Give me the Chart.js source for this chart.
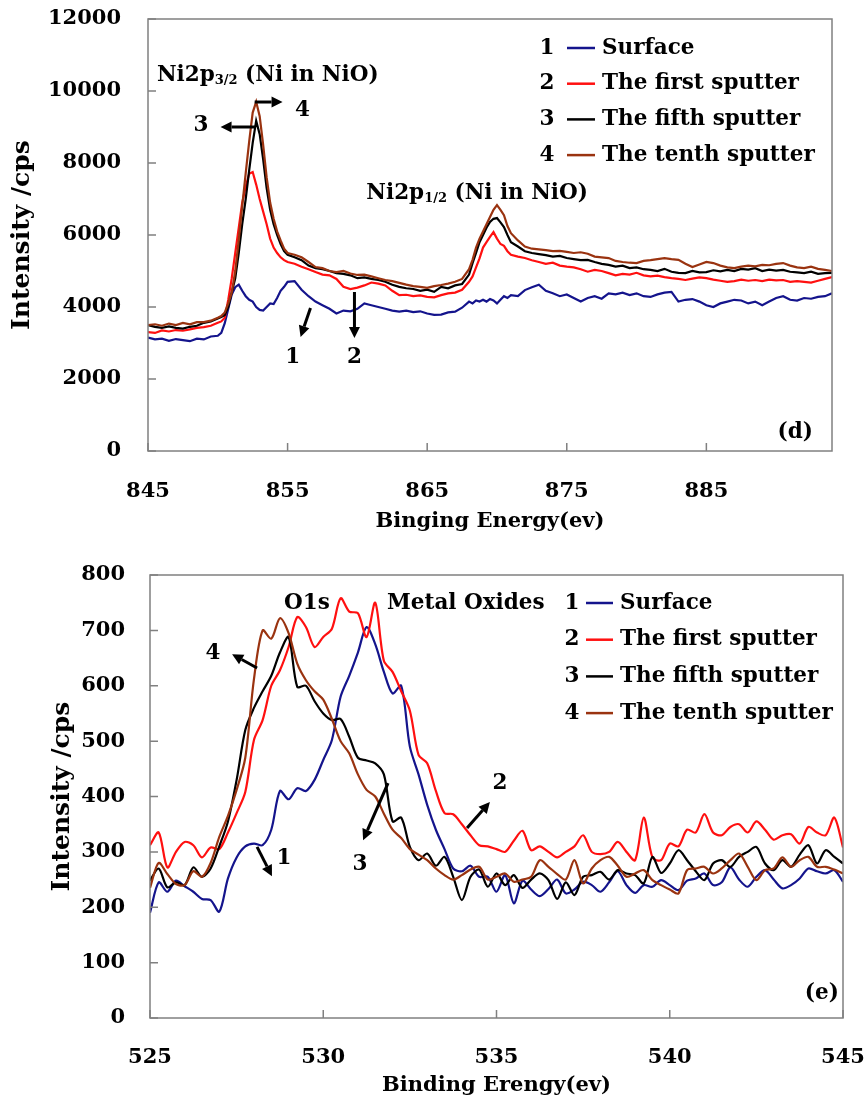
<!DOCTYPE html>
<html>
<head>
<meta charset="utf-8">
<script src="https://cdn.jsdelivr.net/npm/chart.js@4.4.1/dist/chart.umd.min.js"></script>
<style>
  html, body { margin: 0; padding: 0; background: #fff; }
  #wrap { position: relative; width: 865px; height: 1104px; }
  #wrap canvas { position: absolute; left: 0; }
</style>
</head>
<body>
<div id="wrap">
  <canvas id="niChart" width="865" height="548" style="top:0"></canvas>
  <canvas id="oChart" width="865" height="556" style="top:548px"></canvas>
</div>
<script>
// ---- series names / colours (same for both panels)
const seriesNames = ["Surface", "The first sputter", "The fifth sputter", "The tenth sputter"];
const seriesColours = ["#14148c", "#ff1010", "#000000", "#9a3310"];
const seriesOrder = [3, 2, 1, 0]; // tenth sputter drawn on top

// ---- panel (d): Ni2p
const niXTicks = [845, 855, 865, 875, 885];
const niYTicks = [0, 2000, 4000, 6000, 8000, 10000, 12000];

const niEnergy = [
  845, 845.5, 846, 846.5, 847, 847.5, 848, 848.5, 849, 849.5, 850,
  850.25, 850.5, 850.75, 851, 851.25, 851.5, 851.75, 852, 852.25, 852.5,
  852.75, 853, 853.25, 853.5, 853.75, 854, 854.25, 854.5, 854.75, 855,
  855.5, 856, 856.5, 857, 857.5, 858, 858.5, 859, 859.5, 860,
  860.5, 861, 861.5, 862, 862.5, 863, 863.5, 864, 864.5, 865,
  865.5, 866, 866.5, 867, 867.5, 868,
  868.25, 868.5, 868.75, 869, 869.25, 869.5, 869.75, 870, 870.25, 870.5, 870.75, 871,
  871.5, 872, 872.5, 873, 873.5, 874, 874.5, 875, 875.5, 876,
  876.5, 877, 877.5, 878, 878.5, 879, 879.5, 880, 880.5, 881,
  881.5, 882, 882.5, 883, 883.5, 884, 884.5, 885, 885.5, 886,
  886.5, 887, 887.5, 888, 888.5, 889, 889.5, 890, 890.5, 891,
  891.5, 892, 892.5, 893, 893.5, 894
];

const niSurface = [
  3150, 3100, 3120, 3060, 3110, 3080, 3050, 3120, 3100, 3180, 3200,
  3280, 3550, 3950, 4350, 4550, 4620, 4450, 4300, 4200, 4150,
  4000, 3920, 3900, 4000, 4100, 4080, 4250, 4450, 4560, 4700,
  4720, 4480, 4300, 4150, 4050, 3950, 3820, 3900, 3880, 3950,
  4100, 4050, 4000, 3950, 3900, 3870, 3900, 3860, 3880, 3820,
  3780, 3790, 3850, 3870, 3980, 4150,
  4100, 4180, 4150, 4200, 4150, 4220, 4180, 4100, 4200, 4300, 4250, 4330,
  4300, 4470, 4550, 4620, 4450, 4380, 4300, 4350, 4250, 4150,
  4250, 4300, 4230, 4380, 4350, 4400, 4330, 4380, 4300, 4280,
  4350, 4400, 4420, 4150, 4200, 4220, 4150, 4050, 4000, 4100,
  4150, 4200, 4180, 4100, 4150, 4050, 4150, 4250, 4300, 4200,
  4180, 4250, 4230, 4280, 4300, 4380
];

const niFirst = [
  3300, 3280, 3350, 3320, 3360, 3340, 3380, 3420, 3440, 3480, 3560,
  3600, 3700, 4200, 4800, 5500, 6200, 6900, 7350, 7700, 7750,
  7400, 7000, 6650, 6300, 5900, 5650, 5500, 5380, 5300, 5250,
  5200, 5120, 5050, 4970, 4900, 4880, 4780, 4560, 4500, 4540,
  4600, 4680, 4650, 4600, 4450, 4330, 4340, 4300, 4320, 4280,
  4270, 4330, 4380, 4400, 4480, 4700,
  4850, 5100, 5350, 5650, 5800, 5950, 6080, 5900, 5750, 5700, 5550, 5450,
  5400, 5360, 5300, 5250, 5200, 5230, 5150, 5120, 5100, 5050,
  4980, 5030, 5000, 4940, 4880, 4920, 4900, 4950, 4880, 4850,
  4870, 4830, 4800, 4780, 4750, 4790, 4820, 4800, 4760, 4730,
  4700, 4720, 4760, 4730, 4750, 4720, 4760, 4740, 4750, 4700,
  4720, 4700, 4680, 4730, 4780, 4830
];

const niFifth = [
  3500, 3450, 3420, 3460, 3420, 3400, 3450, 3480, 3560, 3600, 3680,
  3720, 3780, 4000, 4400, 4800, 5500, 6300, 7000, 7800, 8560,
  9170, 8800, 8100, 7300, 6700, 6300, 6000, 5750, 5550, 5450,
  5380, 5300, 5150, 5080, 5050, 5000, 4940, 4920, 4880, 4800,
  4820, 4780, 4750, 4700, 4620, 4560, 4520, 4500, 4450, 4480,
  4420, 4560, 4520, 4600, 4640, 4900,
  5220, 5500, 5800, 6000, 6200, 6360, 6450, 6470, 6350, 6220, 6000, 5800,
  5680, 5550, 5500, 5470, 5440, 5400, 5420, 5360, 5330, 5300,
  5310, 5250, 5200, 5170, 5120, 5150, 5080, 5100, 5050, 5030,
  5000, 5060, 4980, 4950, 4940, 5000, 4960, 4970, 5020, 4990,
  5030, 5000, 5060, 5040, 5080, 5000, 5040, 5010, 5030, 4980,
  4960, 4940, 4980, 4920, 4940, 4950
];

const niTenth = [
  3500, 3520, 3480, 3540, 3500, 3560, 3520, 3580, 3580, 3620, 3700,
  3750, 3850, 4100, 4400, 5000, 5860, 6800, 7720, 8600, 9400,
  9700, 9300, 8500, 7600, 6900, 6450, 6100, 5850, 5620, 5500,
  5450, 5380, 5250, 5110, 5080, 5000, 4970, 5000, 4930, 4890,
  4900, 4850, 4800, 4750, 4720, 4670, 4620, 4580, 4560, 4530,
  4580, 4610, 4650, 4700, 4780, 5050,
  5310, 5650, 5900, 6100, 6300, 6500, 6700, 6830, 6700, 6550, 6250, 6050,
  5850, 5680, 5620, 5600, 5580, 5550, 5560, 5530, 5500, 5520,
  5480, 5400, 5380, 5360, 5280, 5250, 5230, 5220, 5280, 5300,
  5330, 5360, 5330, 5310, 5200, 5110, 5180, 5250, 5220, 5150,
  5100, 5080, 5120, 5150, 5130, 5170, 5160, 5200, 5220, 5150,
  5100, 5080, 5120, 5060, 5030, 5000
];

// ---- panel (e): O1s
const oXTicks = [525, 530, 535, 540, 545];
const oYTicks = [0, 100, 200, 300, 400, 500, 600, 700, 800];

const oEnergy = [
  525, 525.25, 525.5, 525.75, 526, 526.25, 526.5, 526.75,
  527, 527.25, 527.5, 527.75, 528, 528.25, 528.5, 528.75,
  529, 529.25, 529.5, 529.75, 530, 530.25, 530.5, 530.75,
  531, 531.25, 531.5, 531.75, 532, 532.25, 532.5, 532.75,
  533, 533.25, 533.5, 533.75, 534, 534.25, 534.5, 534.75,
  535, 535.25, 535.5, 535.75, 536, 536.25, 536.5, 536.75,
  537, 537.25, 537.5, 537.75, 538, 538.25, 538.5, 538.75,
  539, 539.25, 539.5, 539.75, 540, 540.25, 540.5, 540.75,
  541, 541.25, 541.5, 541.75, 542, 542.25, 542.5, 542.75,
  543, 543.25, 543.5, 543.75, 544, 544.25, 544.5, 544.75,
  545
];

const oSurface = [
  190, 245, 228, 248, 238, 228, 215, 213,
  192, 252, 290, 310, 315, 312, 340, 410,
  395, 415, 410, 430, 466, 502, 580, 618,
  660, 706, 675, 625, 586, 600, 490, 440,
  385, 340, 305, 270, 265, 275, 255, 255,
  228, 258, 207, 248, 232, 220, 233, 250,
  225, 232, 246, 240, 228, 245, 265, 240,
  226, 240, 237, 249, 240, 231, 248, 252,
  261, 240, 245, 272, 250, 237, 255, 267,
  250, 234, 240, 252, 270, 265, 261, 267,
  246
];

const oFirst = [
  312, 335, 272, 300, 318, 312, 290, 308,
  305, 335, 370, 408, 502, 538, 600, 628,
  670, 724, 706, 670, 688, 703, 758, 734,
  731, 688, 750, 645, 625, 590, 555, 475,
  460, 410, 370, 368, 350, 330, 312, 310,
  305, 300, 320, 338, 303, 310, 300, 290,
  300, 310, 330, 300, 296, 300, 318, 300,
  285, 362, 290, 285, 315, 310, 340, 335,
  368, 335, 330, 345, 350, 335, 355, 340,
  322, 330, 332, 315, 345, 335, 330, 362,
  308
];

const oFifth = [
  248, 270, 236, 245, 240, 272, 255, 270,
  310, 355, 430, 520, 560, 590, 618, 660,
  688, 598, 600, 572, 550, 538, 540, 508,
  470, 465, 460, 440, 355, 362, 309, 285,
  297, 275, 291, 255, 213, 255, 268, 237,
  261, 240, 258, 235, 250, 261, 249, 215,
  245, 222, 255, 258, 264, 250, 267, 261,
  258, 243, 291, 262, 279, 303, 285, 265,
  249, 279, 285, 273, 291, 300, 309, 279,
  267, 285, 273, 295, 312, 279, 303, 291,
  279
];

const oTenth = [
  235, 280, 260, 242, 240, 265, 255, 280,
  327, 365, 412, 470, 612, 700, 685, 722,
  695, 640, 610, 590, 575, 540, 500, 478,
  440, 412, 400, 369, 340, 325, 305, 295,
  285, 270, 258, 250, 258, 268, 273, 250,
  255, 261, 246, 250, 255, 285, 273, 260,
  250, 285, 243, 270, 285, 291, 275, 255,
  261, 267, 249, 240, 232, 225, 267, 270,
  273, 261, 270, 285, 297, 273, 249, 267,
  270, 290, 273, 285, 291, 273, 273, 268,
  261
];

// ---- notes drawn on the panels (positions in data units)
const niNotes = {
  peaks: [
    { x: 845.64, y: 10444, main: "Ni2p", sub: "3/2", rest: " (Ni in NiO)" },
    { x: 860.64, y: 7167, main: "Ni2p", sub: "1/2", rest: " (Ni in NiO)" }
  ],
  texts: [
    { t: "3", x: 848.8, y: 9055 }, { t: "4", x: 856.07, y: 9470 },
    { t: "1", x: 855.36, y: 2611 }, { t: "2", x: 859.79, y: 2611 },
    { t: "(d)", x: 891.36, y: 528 }
  ],
  arrows: [
    [852.7, 9000, 850.2, 9000], [852.64, 9694, 854.64, 9694],
    [856.64, 3972, 855.93, 3167], [859.79, 4417, 859.79, 3139]
  ],
  legend: { num: -285, line1: -265, line2: -237, text: -230, row0: 29, gap: 35.7 }
};

const oNotes = {
  peaks: [],
  texts: [
    { t: "O1s", x: 529.53, y: 749 }, { t: "Metal Oxides", x: 531.84, y: 749, align: "left" },
    { t: "4", x: 526.82, y: 659 }, { t: "1", x: 528.87, y: 289 },
    { t: "3", x: 531.06, y: 278 }, { t: "2", x: 535.1, y: 424 },
    { t: "(e)", x: 544.39, y: 45 }
  ],
  arrows: [
    [528.09, 632, 527.37, 657], [528.09, 309, 528.52, 256],
    [531.87, 424, 531.15, 321], [534.15, 343, 534.81, 390]
  ],
  legend: { num: -271, line1: -257, line2: -230, text: -223, row0: 28, gap: 36.7 }
};

const FONT = '"DejaVu Serif"';
const tickFont = { family: FONT, size: 21, weight: "bold" };

function pointsOf(xs, ys) {
  return xs.map((x, i) => ({ x: x, y: ys[i] }));
}

function buildDatasets(xs, list, tension) {
  return list.map((ys, i) => ({
    label: seriesNames[i],
    data: pointsOf(xs, ys),
    borderColor: seriesColours[i],
    backgroundColor: seriesColours[i],
    borderWidth: 2.2,
    pointRadius: 0,
    tension: tension,
    order: seriesOrder[i]
  }));
}

// grey frame + inward tick marks
const framePlugin = {
  id: "frame",
  afterDatasetsDraw(chart) {
    const { ctx, chartArea: a, scales } = chart;
    ctx.save();
    ctx.strokeStyle = "#808080";
    ctx.lineWidth = 1.5;
    ctx.strokeRect(a.left, a.top, a.right - a.left, a.bottom - a.top);
    ctx.beginPath();
    scales.x.ticks.forEach(t => {
      const px = scales.x.getPixelForValue(t.value);
      ctx.moveTo(px, a.bottom);
      ctx.lineTo(px, a.bottom - 8);
    });
    scales.y.ticks.forEach(t => {
      const py = scales.y.getPixelForValue(t.value);
      ctx.moveTo(a.left, py);
      ctx.lineTo(a.left + 8, py);
    });
    ctx.stroke();
    ctx.restore();
  }
};

function drawArrow(ctx, x1, y1, x2, y2) {
  const ang = Math.atan2(y2 - y1, x2 - x1);
  const head = 11, half = 5.5;
  const bx = x2 - head * Math.cos(ang), by = y2 - head * Math.sin(ang);
  ctx.beginPath();
  ctx.moveTo(x1, y1);
  ctx.lineTo(bx, by);
  ctx.stroke();
  ctx.beginPath();
  ctx.moveTo(x2, y2);
  ctx.lineTo(bx + half * Math.sin(ang), by - half * Math.cos(ang));
  ctx.lineTo(bx - half * Math.sin(ang), by + half * Math.cos(ang));
  ctx.closePath();
  ctx.fill();
}

// text notes, arrows and the numbered legend
const notesPlugin = {
  id: "notes",
  afterDraw(chart, args, opts) {
    const { ctx, chartArea: a, scales } = chart;
    const sx = v => scales.x.getPixelForValue(v);
    const sy = v => scales.y.getPixelForValue(v);
    ctx.save();
    ctx.fillStyle = "#000";
    ctx.strokeStyle = "#000";
    ctx.textBaseline = "middle";
    const big = "bold 21.5px " + FONT, small = "bold 13px " + FONT;

    opts.peaks.forEach(p => {
      let x = sx(p.x);
      const y = sy(p.y);
      ctx.textAlign = "left";
      ctx.font = big;
      ctx.fillText(p.main, x, y);
      x += ctx.measureText(p.main).width;
      ctx.font = small;
      ctx.fillText(p.sub, x, y + 6);
      x += ctx.measureText(p.sub).width;
      ctx.font = big;
      ctx.fillText(p.rest, x, y);
    });

    ctx.font = big;
    opts.texts.forEach(t => {
      ctx.textAlign = t.align || "center";
      ctx.fillText(t.t, sx(t.x), sy(t.y));
    });

    ctx.lineWidth = 3;
    opts.arrows.forEach(r => drawArrow(ctx, sx(r[0]), sy(r[1]), sx(r[2]), sy(r[3])));

    const L = opts.legend;
    seriesNames.forEach((name, i) => {
      const y = a.top + L.row0 + i * L.gap;
      ctx.font = big;
      ctx.textAlign = "center";
      ctx.fillStyle = "#000";
      ctx.fillText(String(i + 1), a.right + L.num, y);
      ctx.strokeStyle = seriesColours[i];
      ctx.lineWidth = 2.5;
      ctx.beginPath();
      ctx.moveTo(a.right + L.line1, y);
      ctx.lineTo(a.right + L.line2, y);
      ctx.stroke();
      ctx.textAlign = "left";
      ctx.fillText(name, a.right + L.text, y);
    });
    ctx.restore();
  }
};

function makeChart(id, cfg) {
  return new Chart(document.getElementById(id), {
    type: "line",
    data: { datasets: buildDatasets(cfg.xs, cfg.series, cfg.tension) },
    plugins: [framePlugin, notesPlugin],
    options: {
      responsive: false,
      animation: false,
      layout: { padding: cfg.padding },
      plugins: {
        legend: { display: false },
        tooltip: { enabled: false },
        notes: cfg.notes
      },
      scales: {
        x: {
          type: "linear",
          min: cfg.xMin,
          max: cfg.xMax,
          afterBuildTicks: s => { s.ticks = cfg.xTicks.map(v => ({ value: v })); },
          afterFit: s => { s.height = cfg.xAxisHeight; s.paddingLeft = 0; s.paddingRight = 0; },
          grid: { display: false, drawTicks: false },
          border: { display: false },
          ticks: { font: tickFont, color: "#000", padding: cfg.xTickPad, maxRotation: 0, autoSkip: false,
                   callback: v => String(v) },
          title: { display: true, text: cfg.xTitle, color: "#000",
                   font: { family: FONT, size: 21, weight: "bold" },
                   padding: { top: 0, bottom: cfg.xTitlePad } }
        },
        y: {
          min: 0,
          max: cfg.yMax,
          afterBuildTicks: s => { s.ticks = cfg.yTicks.map(v => ({ value: v })); },
          afterFit: s => { s.width = cfg.yAxisWidth; s.paddingTop = 0; s.paddingBottom = 0; },
          grid: { display: false, drawTicks: false },
          border: { display: false },
          ticks: { font: tickFont, color: "#000", padding: cfg.yTickPad, callback: v => String(v) },
          title: { display: true, text: "Intensity /cps", color: "#000",
                   font: { family: FONT, size: 25, weight: "bold" },
                   padding: { top: cfg.yTitlePad, bottom: 0 } }
        }
      }
    }
  });
}

makeChart("niChart", {
  xs: niEnergy, series: [niSurface, niFirst, niFifth, niTenth], tension: 0,
  xMin: 845, xMax: 894, yMax: 12000, xTicks: niXTicks, yTicks: niYTicks,
  padding: { left: 0, top: 19, right: 33, bottom: 0 },
  xAxisHeight: 97, yAxisWidth: 148, xTickPad: 28, yTickPad: 27,
  xTitle: "Binging Energy(ev)", xTitlePad: 14, yTitlePad: 7,
  notes: niNotes
});

makeChart("oChart", {
  xs: oEnergy, series: [oSurface, oFirst, oFifth, oTenth], tension: 0.3,
  xMin: 525, xMax: 545, yMax: 800, xTicks: oXTicks, yTicks: oYTicks,
  padding: { left: 0, top: 27, right: 22, bottom: 0 },
  xAxisHeight: 86, yAxisWidth: 150, xTickPad: 27, yTickPad: 25,
  xTitle: "Binding Erengy(ev)", xTitlePad: 6, yTitlePad: 47,
  notes: oNotes
});
</script>
</body>
</html>
